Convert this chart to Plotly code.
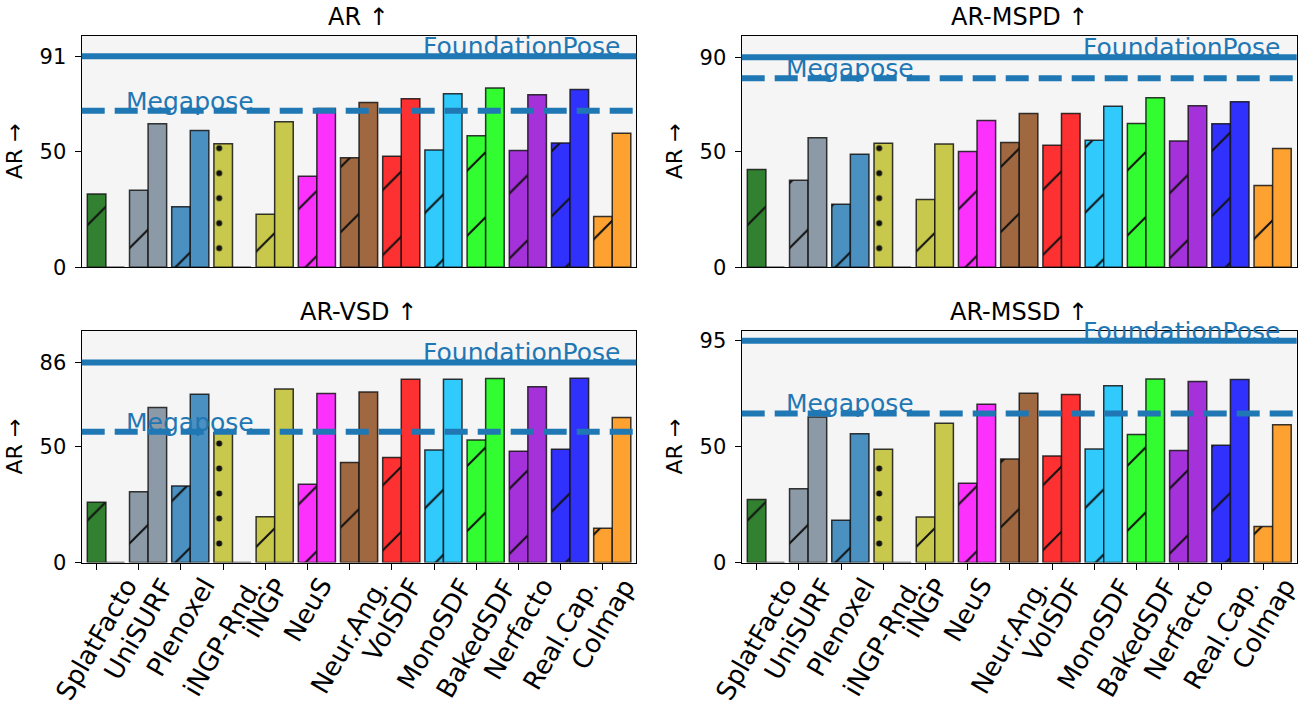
import plotly.graph_objects as go
import numpy as np

# ---------------- data ----------------
categories = ["SplatFacto", "UniSURF", "Plenoxel", "iNGP-Rnd.", "iNGP", "NeuS",
              "Neur.Ang.", "VolSDF", "MonoSDF", "BakedSDF", "Nerfacto", "Real.Cap.", "Colmap"]

metric_titles = ["AR ↑", "AR-MSPD ↑", "AR-VSD ↑", "AR-MSSD ↑"]

ar_hatched   = [31.7, 33.3, 26.1, 53.3, 22.9, 39.3, 47.3, 48.0, 50.7, 56.8, 50.4, 53.7, 21.9]
ar_solid     = [0.0, 62.0, 59.1, 0.0, 62.8, 68.6, 71.2, 72.8, 74.9, 77.4, 74.5, 76.8, 57.9]

mspd_hatched = [42.2, 37.6, 27.2, 53.6, 29.3, 50.0, 53.9, 52.7, 54.9, 62.1, 54.5, 62.0, 35.3]
mspd_solid   = [0.0, 55.9, 48.8, 0.0, 53.2, 63.4, 66.4, 66.4, 69.5, 73.2, 69.7, 71.5, 51.3]

vsd_hatched  = [26.0, 30.6, 33.0, 56.0, 19.8, 33.8, 43.2, 45.4, 48.6, 52.9, 48.1, 48.9, 14.8]
vsd_solid    = [0.0, 67.0, 72.7, 0.0, 75.0, 73.0, 73.7, 79.2, 79.2, 79.5, 75.9, 79.6, 62.6]

mssd_hatched = [27.2, 31.9, 18.2, 48.9, 19.7, 34.2, 44.7, 46.0, 49.0, 55.3, 48.4, 50.6, 15.5]
mssd_solid   = [0.0, 62.9, 55.6, 0.0, 60.2, 68.4, 73.1, 72.6, 76.3, 79.3, 78.2, 79.0, 59.5]

foundationpose = [91.1, 90.7, 86.4, 95.8]
megapose       = [67.6, 81.6, 56.5, 64.4]

hatch_kind = ["/", "/", "/", ".", "/", "/", "/", "/", "/", "/", "/", "/", "/"]

# ---------------- styles ----------------
bar_colors = ["#318131", "#8c9aa7", "#4a90c1", "#c7c84c", "#c7c84c", "#fd31fd",
              "#a06840", "#fd3131", "#31cafd", "#31fd31", "#a431d9", "#3131fd", "#fda131"]
line_blue = "#1f77b4"
bg = "#f5f5f5"
FONT = "DejaVu Sans"
W, H = 1299, 709
BW = 0.44
edge = "rgba(20,20,20,0.85)"

hatched_sets = [ar_hatched, mspd_hatched, vsd_hatched, mssd_hatched]
solid_sets = [ar_solid, mspd_solid, vsd_solid, mssd_solid]

# axes pixel boxes (left, right, top, bottom)
boxes = [(81.7, 636.3, 35.7, 267.3), (741.7, 1296.7, 35.7, 267.3),
         (81.7, 636.3, 331.0, 562.5), (741.7, 1296.7, 331.0, 562.5)]

idx = np.arange(len(categories))

fig = go.Figure()
shapes = []
annotations = []
layout_axes = {}

for k in range(4):
    s = "" if k == 0 else str(k + 1)
    xa, ya = "x" + s, "y" + s
    for i in range(len(categories)):
        dotted = hatch_kind[i] == "."
        fig.add_trace(go.Bar(
            x=[idx[i]], y=[hatched_sets[k][i]], width=BW, xaxis=xa, yaxis=ya,
            marker=dict(color=bar_colors[i], line=dict(color=edge, width=1.5),
                        pattern=dict(shape=hatch_kind[i], fillmode="overlay", fgcolor="#111111",
                                     fgopacity=1, size=25 if dotted else 46,
                                     solidity=0.045 if dotted else 0.045)),
            showlegend=False, hoverinfo="skip"))
    fig.add_trace(go.Bar(
        x=idx + BW, y=solid_sets[k], width=BW, xaxis=xa, yaxis=ya,
        marker=dict(color=bar_colors, line=dict(color=edge, width=1.5)),
        showlegend=False, hoverinfo="skip"))

    l, r, t, b = boxes[k]
    bottom_row = k >= 2
    layout_axes["xaxis" + s] = dict(
        domain=[l / W, r / W], anchor=ya, range=[-0.353, 12.79], automargin=False,
        showgrid=False, zeroline=False, showline=True, mirror=True,
        linecolor="black", linewidth=1.3,
        tickvals=list(idx), showticklabels=False,
        ticks="outside" if bottom_row else "", ticklen=6, tickwidth=1.3, tickcolor="black")
    fp = foundationpose[k]
    layout_axes["yaxis" + s] = dict(
        domain=[1 - b / H, 1 - t / H], anchor=xa, range=[0, 100], automargin=False,
        showgrid=False, zeroline=False, showline=True, mirror=True,
        linecolor="black", linewidth=1.3,
        tickvals=[0, 50, fp], ticktext=["0", "50", str(int(fp))],
        ticks="outside", ticklen=6, tickwidth=1.3, tickcolor="black",
        tickfont=dict(size=21, color="black", family=FONT), ticklabelstandoff=4)

    shapes.append(dict(type="line", xref=xa + " domain", yref=ya, x0=0, x1=1, y0=fp, y1=fp,
                       line=dict(color=line_blue, width=6), layer="above"))
    shapes.append(dict(type="line", xref=xa + " domain", yref=ya, x0=0, x1=1,
                       y0=megapose[k], y1=megapose[k],
                       line=dict(color=line_blue, width=6, dash="23px,10px"), layer="above"))

    annotations.append(dict(text="FoundationPose", xref=xa, yref=ya, x=12.45, y=fp,
                            xanchor="right", yanchor="bottom", yshift=-7, showarrow=False,
                            font=dict(size=25, color=line_blue, family=FONT)))
    annotations.append(dict(text="Megapose", xref=xa, yref=ya, x=0.66, y=megapose[k],
                            xanchor="left", yanchor="bottom", yshift=-7, showarrow=False,
                            font=dict(size=25, color=line_blue, family=FONT)))
    annotations.append(dict(text=metric_titles[k], xref=xa + " domain", yref=ya + " domain",
                            x=0.5, y=1, xanchor="center", yanchor="bottom", yshift=3,
                            showarrow=False, font=dict(size=24, color="black", family=FONT)))
    annotations.append(dict(text="AR →", xref="paper", yref=ya + " domain",
                            x=(l - 67) / W, y=0.5, xanchor="center", yanchor="middle",
                            textangle=-90, showarrow=False,
                            font=dict(size=22, color="black", family=FONT)))
    if bottom_row:
        for i, name in enumerate(categories):
            annotations.append(dict(text=name, xref=xa, yref=ya + " domain", x=int(idx[i]), y=0,
                                    xanchor="center", yanchor="top", yshift=-8,
                                    textangle=-60, showarrow=False,
                                    font=dict(size=26, color="black", family=FONT)))

fig.update_layout(
    width=W, height=H, margin=dict(l=0, r=0, t=0, b=0, autoexpand=False),
    paper_bgcolor="white", plot_bgcolor=bg, barmode="overlay",
    font=dict(family=FONT, color="black"),
    shapes=shapes, annotations=annotations, **layout_axes)

fig.write_html("out.html", config={"displayModeBar": False},
               post_script="document.body.style.margin='0px';document.body.style.overflow='hidden';")
